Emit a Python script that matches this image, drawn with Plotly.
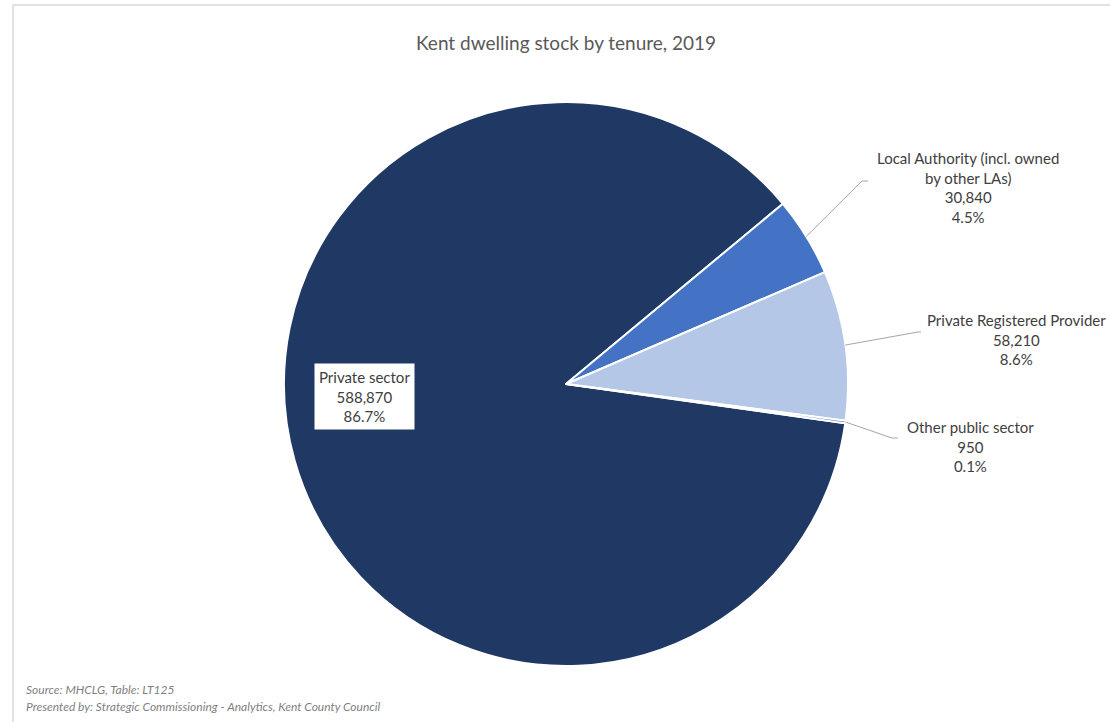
import math
import plotly.graph_objects as go

# ---- data ----
categories = ["Private sector", "Local Authority (incl. owned<br>by other LAs)",
              "Private Registered Provider", "Other public sector"]
values = [588870, 30840, 58210, 950]
colors = ["#1F3864", "#4472C4", "#B4C7E7", "#2F5597"]
title_text = "Kent dwelling stock by tenure, 2019"
source_lines = ["Source: MHCLG, Table: LT125",
                "Presented by: Strategic Commissioning - Analytics, Kent County Council"]

W, H = 1110, 722
CX, CY, R = 566, 384, 282
ROT = 98.0

def px(x):
    return x / W

def py(y):
    return 1 - y / H

fig = go.Figure(go.Pie(
    labels=[c.replace("<br>", " ") for c in categories],
    values=values,
    sort=False,
    direction="clockwise",
    rotation=ROT,
    marker=dict(colors=colors, line=dict(color="white", width=2)),
    textinfo="none",
    hoverinfo="label+value+percent",
    showlegend=False,
    domain=dict(x=[px(CX - R), px(CX + R)], y=[py(CY + R), py(CY - R)]),
))

total = sum(values)
cum = 0
mids = []
for v in values:
    mids.append(ROT + 360 * (cum + v / 2) / total)
    cum += v

def edge(i):
    a = math.radians(mids[i])
    return CX + R * math.sin(a), CY - R * math.cos(a)

shapes = [
    dict(type="rect", xref="paper", yref="paper", x0=px(13), y0=py(730), x1=px(1120), y1=py(5),
         line=dict(color="#D9D9D9", width=1.5), fillcolor="rgba(0,0,0,0)", layer="below"),
]
# leader line elbows (layout positions)
elbows = {1: [(862, 181), (868, 181)], 2: [(918, 332), (921, 332)], 3: [(892, 438), (898, 438)]}
for i, pts in elbows.items():
    x0, y0 = edge(i)
    path = "M {} {}".format(px(x0), py(y0))
    for (x, y) in pts:
        path += " L {} {}".format(px(x), py(y))
    shapes.append(dict(type="path", xref="paper", yref="paper", path=path,
                       line=dict(color="#A6A6A6", width=1)))

def fmt(v):
    return "{:,}".format(v)

def pct(v):
    return "{:.1f}%".format(100 * v / total)

FAM = "Lato, 'Open Sans', sans-serif"
font = dict(family=FAM, size=15, color="#404040")
label_pos = {0: (364, 396), 1: (968, 188), 2: (1016, 340), 3: (970, 446)}
annotations = []
for i, (x, y) in label_pos.items():
    txt = "{}<br>{}<br>{}".format(categories[i], fmt(values[i]), pct(values[i]))
    ann = dict(x=px(x), y=py(y), xref="paper", yref="paper", text=txt, showarrow=False,
               font=font, align="center", xanchor="center", yanchor="middle")
    if i == 0:
        ann.update(bgcolor="white", borderpad=4)
    annotations.append(ann)

annotations.append(dict(x=px(566), y=py(43), xref="paper", yref="paper", text=title_text,
                        showarrow=False, xanchor="center", yanchor="middle",
                        font=dict(family=FAM, size=19, color="#595959")))
for k, line in enumerate(source_lines):
    annotations.append(dict(x=px(24), y=py(689 + 17 * k), xref="paper", yref="paper",
                            text="<i>" + line + "</i>", showarrow=False,
                            xanchor="left", yanchor="middle",
                            font=dict(family=FAM, size=12, color="#7F7F7F")))

fig.update_layout(
    width=W, height=H,
    margin=dict(l=0, r=0, t=0, b=0),
    paper_bgcolor="white", plot_bgcolor="white",
    shapes=shapes, annotations=annotations,
)

fig.write_html("out.html")
